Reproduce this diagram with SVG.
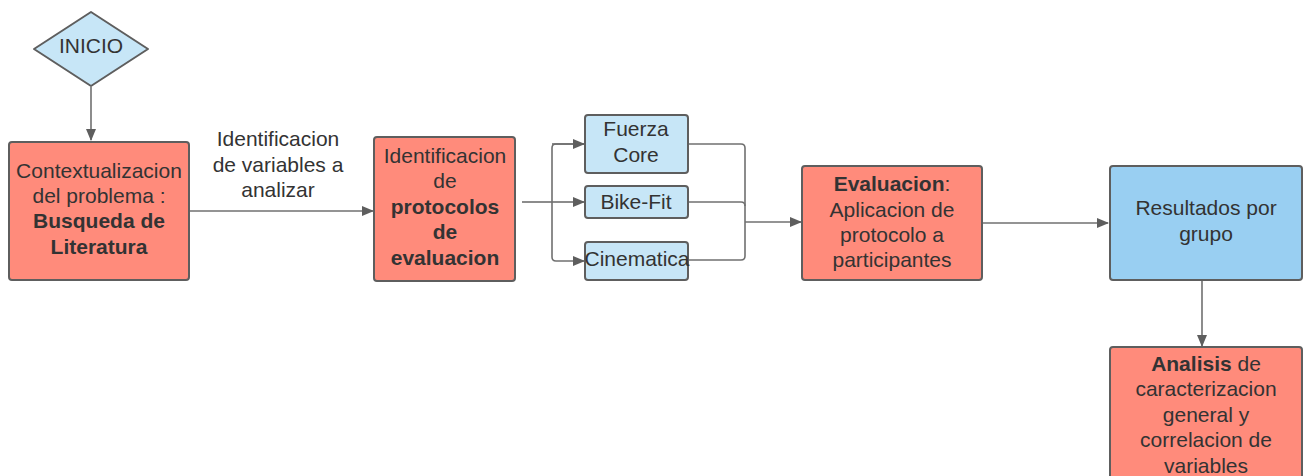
<svg xmlns="http://www.w3.org/2000/svg" width="1308" height="476" viewBox="0 0 1308 476">
<style>
.red{fill:#FF8B7B;stroke:#5E5E5E;stroke-width:2}
.lb{fill:#C7E6F7;stroke:#5E5E5E;stroke-width:2}
.db{fill:#99CFF2;stroke:#5E5E5E;stroke-width:2}
text{font-family:"Liberation Sans",Arial,sans-serif;font-size:21px;fill:#333333;text-anchor:middle}
.b{font-weight:bold}
.c{fill:none;stroke:#707070;stroke-width:1.6}
</style>
<defs>
<marker id="ah" markerWidth="12" markerHeight="10" refX="11" refY="5" orient="auto" markerUnits="userSpaceOnUse">
<path d="M0,0 L12,5 L0,10 Z" fill="#5E5E5E"/>
</marker>
</defs>
<rect width="1308" height="476" fill="#ffffff"/>
<g id="connectors">
<path class="c" d="M91,87 V140" marker-end="url(#ah)"/>
<path class="c" d="M190,211 H373" marker-end="url(#ah)"/>
<path class="c" d="M522,202 H552"/>
<path class="c" d="M584,144 H556 Q552,144 552,148 V257 Q552,261 556,261 H584" marker-end="url(#ah)"/>
<path class="c" d="M552,144 H584" marker-end="url(#ah)"/>
<path class="c" d="M552,202 H584" marker-end="url(#ah)"/>
<path class="c" d="M688,144 H741 Q745,144 745,148 V256 Q745,260 741,260 H688"/>
<path class="c" d="M688,202 H741 Q745,202 745,206"/>
<path class="c" d="M745,222 H801" marker-end="url(#ah)"/>
<path class="c" d="M983,223 H1108" marker-end="url(#ah)"/>
<path class="c" d="M1202,281 V346" marker-end="url(#ah)"/>
</g>
<g id="inicio">
<path d="M91,12 L148,49 L91,86 L34,49 Z" fill="#C7E6F7" stroke="#5E5E5E" stroke-width="2" stroke-linejoin="round"/>
<text x="91" y="53">INICIO</text>
</g>
<g id="contexto">
<rect class="red" x="9" y="142" width="180" height="138" rx="3"/>
<text x="99" y="178">Contextualizacion</text>
<text x="99" y="203">del problema :</text>
<text x="99" y="228" class="b">Busqueda de</text>
<text x="99" y="254" class="b">Literatura</text>
</g>
<g id="label-variables">
<text x="278" y="146">Identificacion</text>
<text x="278" y="172">de variables a</text>
<text x="278" y="197">analizar</text>
</g>
<g id="protocolos">
<rect class="red" x="374" y="137" width="141" height="144" rx="3"/>
<text x="445" y="163">Identificacion</text>
<text x="445" y="188">de</text>
<text x="445" y="214" class="b">protocolos</text>
<text x="445" y="239" class="b">de</text>
<text x="445" y="265" class="b">evaluacion</text>
</g>
<g id="fuerza">
<rect class="lb" x="585" y="115" width="103" height="58" rx="3"/>
<text x="636" y="136">Fuerza</text>
<text x="636" y="162">Core</text>
</g>
<g id="bikefit">
<rect class="lb" x="585" y="186" width="103" height="32" rx="3"/>
<text x="636" y="209">Bike-Fit</text>
</g>
<g id="cinematica">
<rect class="lb" x="585" y="242" width="103" height="38" rx="3"/>
<text x="637" y="266">Cinematica</text>
</g>
<g id="evaluacion">
<rect class="red" x="802" y="166" width="180" height="114" rx="3"/>
<text x="892" y="191"><tspan class="b">Evaluacion</tspan>:</text>
<text x="892" y="217">Aplicacion de</text>
<text x="892" y="242">protocolo a</text>
<text x="892" y="267">participantes</text>
</g>
<g id="resultados">
<rect class="db" x="1110" y="166" width="192" height="114" rx="3"/>
<text x="1206" y="215">Resultados por</text>
<text x="1206" y="241">grupo</text>
</g>
<g id="analisis">
<rect class="red" x="1110" y="347" width="192" height="140" rx="3"/>
<text x="1206" y="371"><tspan class="b">Analisis</tspan> de</text>
<text x="1206" y="396">caracterizacion</text>
<text x="1206" y="422">general y</text>
<text x="1206" y="447">correlacion de</text>
<text x="1206" y="473">variables</text>
</g>
</svg>
